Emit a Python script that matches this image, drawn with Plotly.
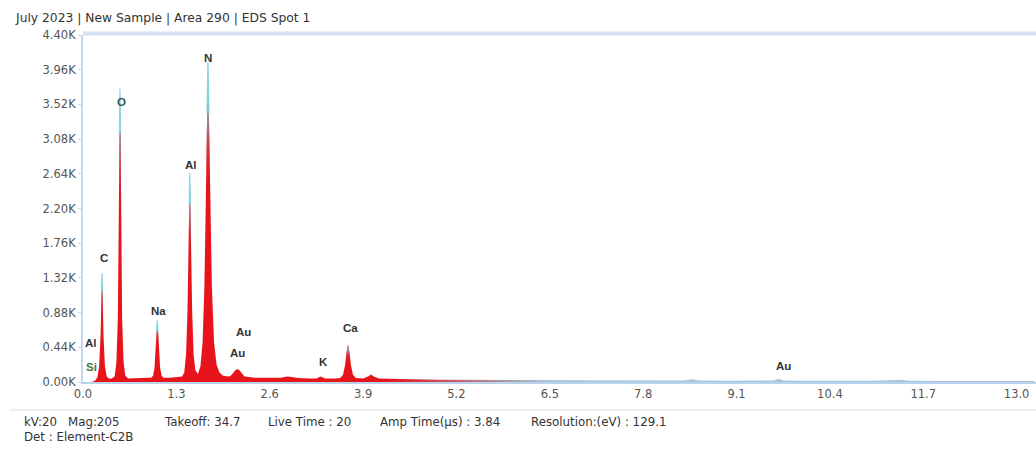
import numpy as np
import plotly.graph_objects as go

# EDS spectrum: energy (keV) and counts
energy_kev = [
    0.12, 0.17, 0.20, 0.225, 0.245, 0.257, 0.265, 0.273, 0.285, 0.305, 0.33, 0.36,
    0.40, 0.44, 0.465, 0.485, 0.497, 0.507, 0.515, 0.523, 0.533, 0.545, 0.565, 0.59, 0.63,
    0.70, 0.80, 0.90,
    0.95, 0.975, 0.995, 1.012, 1.025, 1.035, 1.045, 1.058, 1.075, 1.095, 1.12,
    1.20, 1.30, 1.38,
    1.41, 1.435, 1.455, 1.47, 1.479, 1.487, 1.495, 1.505, 1.52, 1.54, 1.565, 1.60,
    1.635, 1.665, 1.69, 1.71, 1.727, 1.74, 1.753, 1.772, 1.795, 1.825, 1.86, 1.90, 1.95,
    2.02, 2.05, 2.09, 2.12, 2.15, 2.18, 2.21, 2.25,
    2.40, 2.60, 2.75, 2.85, 2.92, 3.00, 3.15, 3.25, 3.31, 3.37, 3.50,
    3.58, 3.62, 3.65, 3.67, 3.69, 3.71, 3.73, 3.76, 3.80,
    3.90, 3.97, 4.01, 4.05, 4.12, 4.30, 4.60, 5.00, 5.50, 6.00, 6.50, 7.00, 7.50,
    8.00, 8.35, 8.47, 8.60, 9.00, 9.50, 9.62, 9.69, 9.76, 10.0, 10.5, 11.0, 11.4,
    11.5, 12.0, 12.5, 13.0, 13.25,
]
counts = [
    0, 20, 60, 200, 600, 1150, 1380, 1150, 600, 200, 70, 45,
    45, 70, 250, 800, 2000, 3150, 3720, 3150, 2000, 800, 250, 80, 45,
    50, 55, 55,
    55, 80, 170, 400, 650, 790, 650, 400, 170, 80, 55,
    55, 60, 70,
    120, 350, 900, 1700, 2250, 2650, 2250, 1700, 900, 350, 150, 100,
    200, 500, 1200, 2300, 3400, 4060, 3400, 2300, 1200, 500, 220, 120, 80,
    70, 75, 110, 150, 165, 150, 110, 70,
    55, 55, 55, 70, 60, 50, 45, 45, 70, 45, 45,
    50, 90, 220, 380, 480, 380, 220, 90, 50,
    45, 70, 95, 70, 45, 40, 35, 30, 28, 25, 22, 20, 20,
    18, 18, 35, 18, 17, 17, 20, 40, 20, 16, 16, 15, 28,
    15, 14, 13, 12, 12,
]

# Element markers: label, energy position, label height (counts), colour
peak_labels = ["Al", "Si", "C", "O", "Na", "Al", "N", "Au", "Au", "K", "Ca", "Au"]
label_energy = [0.11, 0.125, 0.29, 0.54, 1.055, 1.51, 1.74, 2.24, 2.15, 3.35, 3.72, 9.75]
label_counts = [500, 190, 1570, 3550, 900, 2750, 4110, 630, 370, 255, 685, 205]
label_colors = ["#333333", "#3d7a45", "#333333", "#2d5a60", "#333333", "#333333",
                "#333333", "#333333", "#333333", "#333333", "#333333", "#333333"]

y_tick_vals = [0, 440, 880, 1320, 1760, 2200, 2640, 3080, 3520, 3960, 4400]
y_tick_text = ["0.00K", "0.44K", "0.88K", "1.32K", "1.76K", "2.20K",
               "2.64K", "3.08K", "3.52K", "3.96K", "4.40K"]
x_tick_vals = [0.0, 1.3, 2.6, 3.9, 5.2, 6.5, 7.8, 9.1, 10.4, 11.7, 13.0]
x_tick_text = ["0.0", "1.3", "2.6", "3.9", "5.2", "6.5", "7.8", "9.1", "10.4", "11.7", "13.0"]

title_text = "July 2023 | New Sample | Area 290 | EDS Spot 1"
info_items = ["kV:20", "Mag:205", "Takeoff: 34.7", "Live Time : 20",
              "Amp Time(µs) : 3.84", "Resolution:(eV) : 129.1"]
detector_text = "Det : Element-C2B"

W, H = 1036, 476
ML, MR, MT, MB = 83, 0, 35, 94
X_MAX = 13.27
FONT = "DejaVu Sans, Liberation Sans, sans-serif"
LABEL_FONT = "Liberation Sans, Arial, sans-serif"
PW, PH = W - ML - MR, H - MT - MB


def px_x(px):
    return (px - ML) / PW


def px_y(py):
    return (H - MB - py) / PH


fig = go.Figure()

# Spectrum body: red at low energies fading to grey-blue in the tail
fig.add_trace(go.Scatter(
    x=energy_kev, y=counts, mode="lines", fill="tozeroy",
    line=dict(color="rgba(0,0,0,0)", width=0),
    fillgradient=dict(type="horizontal", start=0, stop=X_MAX,
                      colorscale=[[0, "#e8141c"], [0.32, "#e8141c"], [0.38, "#c85060"],
                                  [0.45, "#a8a4b0"], [0.50, "#a9c6e0"], [1, "#a9c6e0"]]),
    hoverinfo="skip", showlegend=False,
))

# Peak tips shaded toward cyan, one trace per peak run
e_arr = np.array(energy_kev)
c_arr = np.array(counts)
above = c_arr > 300
idx = 0
while idx < len(c_arr):
    if above[idx]:
        j = idx
        while j + 1 < len(c_arr) and above[j + 1]:
            j += 1
        lo, hi = max(idx - 1, 0), min(j + 1, len(c_arr) - 1)
        seg_e = e_arr[lo:hi + 1]
        seg_c = c_arr[lo:hi + 1]
        top = float(seg_c.max())
        fig.add_trace(go.Scatter(
            x=seg_e, y=seg_c, mode="lines", fill="tozeroy",
            line=dict(color="rgba(0,0,0,0)", width=0),
            fillgradient=dict(type="vertical", start=0, stop=top,
                              colorscale=[[0, "rgba(232,20,28,0)"], [0.62, "rgba(232,20,28,0)"],
                                          [0.80, "rgba(150,130,145,0.95)"],
                                          [1, "rgba(125,225,235,1)"]]),
            hoverinfo="skip", showlegend=False,
        ))
        tip = seg_c >= 0.8 * top
        fig.add_trace(go.Scatter(
            x=seg_e[tip], y=seg_c[tip], mode="lines",
            line=dict(color="rgba(130,218,228,0.9)", width=1.3),
            hoverinfo="skip", showlegend=False,
        ))
        idx = j + 1
    else:
        idx += 1

# Element labels
for name, ex, cy, col in zip(peak_labels, label_energy, label_counts, label_colors):
    fig.add_annotation(x=ex, y=cy, text=f"<b>{name}</b>", showarrow=False,
                       font=dict(family=LABEL_FONT, size=11.5, color=col),
                       xanchor="center", yanchor="middle")

# Title and acquisition details
fig.add_annotation(xref="paper", yref="paper", x=px_x(13), y=px_y(18),
                   text=title_text, showarrow=False, xanchor="left", yanchor="middle",
                   font=dict(family=FONT, size=12.3, color="#333333"))
info_x = [22, 66, 162, 266, 378, 529]
for txt, px in zip(info_items, info_x):
    fig.add_annotation(xref="paper", yref="paper", x=px_x(px), y=px_y(422),
                       text=txt, showarrow=False, xanchor="left", yanchor="middle",
                       font=dict(family=FONT, size=11.8, color="#333333"))
fig.add_annotation(xref="paper", yref="paper", x=px_x(22), y=px_y(437),
                   text=detector_text, showarrow=False, xanchor="left", yanchor="middle",
                   font=dict(family=FONT, size=11.8, color="#333333"))

# Frame pieces: thick pale top rule, faint separator under the energy axis
fig.add_shape(type="line", xref="paper", yref="paper", x0=0, x1=1, y0=1.004, y1=1.004,
              line=dict(color="#d6e2ef", width=4))
fig.add_shape(type="line", xref="paper", yref="paper", x0=px_x(10), x1=1,
              y0=px_y(410), y1=px_y(410), line=dict(color="#e8e8e8", width=1.5))

fig.update_xaxes(range=[0, X_MAX], tickvals=x_tick_vals, ticktext=x_tick_text,
                 showgrid=False, zeroline=False, showline=True, linecolor="#b9d3ea",
                 linewidth=2, ticks="", ticklen=0,
                 tickfont=dict(family=FONT, size=11.5, color="#555555"))
fig.update_yaxes(range=[0, 4400], tickvals=y_tick_vals, ticktext=y_tick_text,
                 showgrid=False, zeroline=False, showline=True, linecolor="#c3d8ec",
                 linewidth=2, ticks="outside", ticklen=3, tickcolor="#c3d8ec",
                 tickfont=dict(family=FONT, size=11.5, color="#555555"))

fig.update_layout(width=W, height=H, margin=dict(l=ML, r=MR, t=MT, b=MB),
                  paper_bgcolor="white", plot_bgcolor="white", showlegend=False)

fig.write_html("out.html")
